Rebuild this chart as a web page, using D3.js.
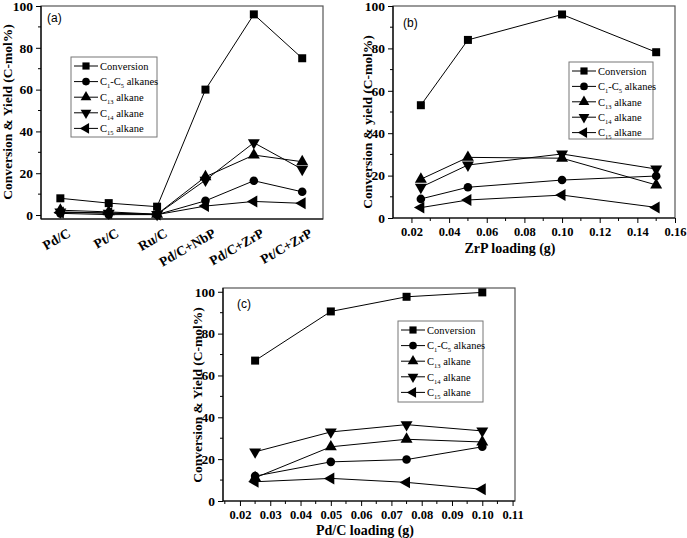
<!DOCTYPE html>
<html><head><meta charset="utf-8">
<script src="https://cdn.jsdelivr.net/npm/d3@7/dist/d3.min.js"></script>
<style>
body{margin:0;background:#fff;}
svg{display:block;}
</style></head>
<body>
<svg id="c" width="687" height="538"></svg>
<script>
// ---- Panel (a) ----
const catsA = ["Pd/C","Pt/C","Ru/C","Pd/C+NbP","Pd/C+ZrP","Pt/C+ZrP"];
const convA = [8.0,5.7,4.0,60,96,75];
const c1c5A = [0.8,0.2,0.2,6.8,16.4,11.1];
const c13A  = [2.3,1.5,0.4,18.3,28.7,25.5];
const c14A  = [1.5,0.9,0.3,16.7,34.6,21.9];
const c15A  = [1.2,1.0,0.2,4.3,6.5,5.6];
// ---- Panel (b) ----
const loadB = [0.025,0.05,0.10,0.15];
const convB = [53.2,84,96,78.2];
const c1c5B = [9.0,14.5,17.9,19.8];
const c13B  = [18.3,28.6,28.2,15.6];
const c14B  = [14.5,25.0,30.2,23.1];
const c15B  = [4.9,8.5,10.8,5.0];
// ---- Panel (c) ----
const loadC = [0.025,0.05,0.075,0.10];
const convC = [67.1,90.6,97.6,99.7];
const c1c5C = [11.9,18.7,19.8,25.9];
const c13C  = [11.1,25.9,29.5,28.2];
const c14C  = [23.5,33.0,36.5,33.5];
const c15C  = [9.2,10.8,8.9,5.6];

const yTicks = [0,20,40,60,80,100];
const ticksB = [0.02,0.04,0.06,0.08,0.10,0.12,0.14,0.16];
const ticksC = [0.02,0.03,0.04,0.05,0.06,0.07,0.08,0.09,0.10,0.11];
const seriesNames = ["Conversion","C1-C5 alkanes","C13 alkane","C14 alkane","C15 alkane"];
const symbols = ["square","circle","up","down","left"];

const SERIF = '"Liberation Serif","Times New Roman",serif';
const SANS = '"Liberation Sans",Arial,sans-serif';
const svg = d3.select("#c").style("font-family", SERIF);

function markerPath(type, s){
  if(type==="square") return d3.symbol(d3.symbolSquare, 64*s)();
  if(type==="circle") return d3.symbol(d3.symbolCircle, 58*s)();
  return d3.symbol(d3.symbolTriangle, 62*s)();
}
function markerRot(type){
  if(type==="down") return 180;
  if(type==="left") return -90;
  return 0;
}
function drawMarker(g, type, x, y, s){
  g.append("path").attr("d", markerPath(type, s||1))
   .attr("transform", `translate(${x},${y}) rotate(${markerRot(type)})`)
   .attr("fill","#000");
}
function labelText(t, name){
  if(name==="Conversion"){ t.text("Conversion"); return; }
  if(name==="C1-C5 alkanes"){
    t.append("tspan").text("C");
    t.append("tspan").attr("dy",3).style("font-size","6.5px").text("1");
    t.append("tspan").attr("dy",-3).text("-C");
    t.append("tspan").attr("dy",3).style("font-size","6.5px").text("5");
    t.append("tspan").attr("dy",-3).text(" alkanes");
    return;
  }
  const num = name.slice(1,3);
  t.append("tspan").text("C");
  t.append("tspan").attr("dy",3).style("font-size","6.5px").text(num);
  t.append("tspan").attr("dy",-3).text(" alkane");
}

function styleTick(sel, size){
  sel.style("font-family", SERIF).style("font-weight","bold").style("font-size", size).attr("fill","#000");
}

function drawPanel(cfg){
  const g = svg.append("g");
  const {x, y, L, R, T, B} = cfg;
  g.append("rect").attr("x",L).attr("y",T).attr("width",R-L).attr("height",B-T)
   .attr("fill","none").attr("stroke","#555").attr("stroke-width",1.2);
  g.append("line").attr("x1",L).attr("x2",R).attr("y1",B).attr("y2",B).attr("stroke","#000").attr("stroke-width",1.2);
  g.append("line").attr("x1",L).attr("x2",L).attr("y1",T).attr("y2",B).attr("stroke","#000").attr("stroke-width",1.2);
  const yAx = d3.axisLeft(y).tickValues(yTicks).tickSize(5).tickPadding(3).tickFormat(d3.format("d"));
  const ya = g.append("g").attr("transform",`translate(${L},0)`).call(yAx);
  ya.select(".domain").remove();
  styleTick(ya.selectAll("text"), "13.5px");
  const minorY = d3.range(10,101,20).filter(v=>y(v)>=T-0.5);
  g.selectAll(null).data(minorY).enter().append("line")
   .attr("x1",L-3).attr("x2",L).attr("y1",d=>y(d)).attr("y2",d=>y(d)).attr("stroke","#000");
  if(cfg.xTicks){
    const xAx = d3.axisBottom(x).tickValues(cfg.xTicks).tickSize(5).tickPadding(4).tickFormat(cfg.fmt);
    const xa = g.append("g").attr("transform",`translate(0,${B})`).call(xAx);
    xa.select(".domain").remove();
    styleTick(xa.selectAll("text"), "12.5px");
    const minorX = cfg.minor.filter(v=>x(v)>L && x(v)<R);
    g.selectAll(null).data(minorX).enter().append("line")
     .attr("y1",B).attr("y2",B+3).attr("x1",d=>x(d)).attr("x2",d=>x(d)).attr("stroke","#000");
  }
  const line = d3.line().x((d,i)=>x(cfg.xs[i])).y(d=>y(d));
  cfg.series.forEach((vals)=>{
    g.append("path").datum(vals).attr("d",line).attr("fill","none").attr("stroke","#000").attr("stroke-width",1);
  });
  cfg.series.forEach((vals, k)=>{
    vals.forEach((v,i)=> drawMarker(g, symbols[k], x(cfg.xs[i]), y(v), 1));
  });
  const lg = cfg.legend;
  g.append("rect").attr("x",lg.x).attr("y",lg.y).attr("width",lg.w).attr("height",lg.h)
   .attr("fill","#fff").attr("stroke","#777").attr("stroke-width",1);
  seriesNames.forEach((nm,k)=>{
    const yy = lg.y + 9 + k*lg.dy;
    g.append("line").attr("x1",lg.x+3).attr("x2",lg.x+27).attr("y1",yy).attr("y2",yy).attr("stroke","#000");
    drawMarker(g, symbols[k], lg.x+15, yy, 0.8);
    const t = g.append("text").attr("x",lg.x+29).attr("y",yy+3.8).style("font-family",SERIF).style("font-size","10.5px").attr("fill","#000");
    labelText(t, nm);
  });
  g.append("text").attr("x",cfg.tag[0]).attr("y",cfg.tag[1]).style("font-family",SANS)
   .style("font-size","12px").attr("fill","#000").text(cfg.tagText);
  g.append("text").attr("transform",`translate(${cfg.yTitle[0]},${cfg.yTitle[1]}) rotate(-90)`)
   .attr("text-anchor","middle").style("font-family",SERIF).style("font-weight","bold").style("font-size","13.5px").attr("fill","#000").text(cfg.yTitleText);
  if(cfg.xTitleText){
    g.append("text").attr("x",cfg.xTitle[0]).attr("y",cfg.xTitle[1]).attr("text-anchor","middle")
     .style("font-family",SERIF).style("font-weight","bold").style("font-size","14px").attr("fill","#000").text(cfg.xTitleText);
  }
  return g;
}

// Panel (a)
{
  const L=41,R=323,T=6,B=219;
  const idx = catsA.map((d,i)=>i);
  const x = d3.scaleLinear().domain([-0.4,5.43]).range([L,R]);
  const y = d3.scaleLinear().domain([-1.9,100]).range([B,T]);
  const g = drawPanel({x,y,L,R,T,B,xs:idx,series:[convA,c1c5A,c13A,c14A,c15A],
    legend:{x:71,y:57,w:86,h:80,dy:15.6}, tag:[47,22], tagText:"(a)",
    yTitle:[12,112], yTitleText:"Conversion & Yield (C-mol%)"});
  catsA.forEach((c,i)=>{
    g.append("text").attr("transform",`translate(${x(i)+6},${B+8}) rotate(-30)`)
     .attr("text-anchor","end").attr("dy","0.75em").style("font-family",SERIF).style("font-weight","bold").style("font-size","13.5px").attr("fill","#000").text(c);
  });
}
// Panel (b)
{
  const L=393,R=675,T=6,B=218;
  const x = d3.scaleLinear().domain([0.0102,0.16]).range([L, R]);
  const y = d3.scaleLinear().domain([0,100]).range([B,T]);
  drawPanel({x,y,L,R,T,B,xs:loadB,series:[convB,c1c5B,c13B,c14B,c15B],
    xTicks:ticksB, minor:d3.range(0.01,0.16,0.02).map(v=>+v.toFixed(3)), fmt:d3.format(".2f"),
    legend:{x:569,y:62,w:84,h:77,dy:15.4}, tag:[403,27], tagText:"(b)",
    yTitle:[372,122], yTitleText:"Conversion & yield (C-mol%)",
    xTitle:[510,253], xTitleText:"ZrP loading (g)"});
}
// Panel (c)
{
  const L=223,R=515,T=288,B=501;
  const x = d3.scaleLinear().domain([0.0144,0.1108]).range([L,R]);
  const y = d3.scaleLinear().domain([0,101.8]).range([B,T]);
  drawPanel({x,y,L,R,T,B,xs:loadC,series:[convC,c1c5C,c13C,c14C,c15C],
    xTicks:ticksC, minor:d3.range(0.015,0.11,0.01).map(v=>+v.toFixed(3)), fmt:d3.format(".2f"),
    legend:{x:398,y:321,w:85,h:81,dy:15.6}, tag:[237,308], tagText:"(c)",
    yTitle:[202,395], yTitleText:"Conversion & Yield (C-mol%)",
    xTitle:[365,535], xTitleText:"Pd/C loading (g)"});
}
</script>
</body></html>
